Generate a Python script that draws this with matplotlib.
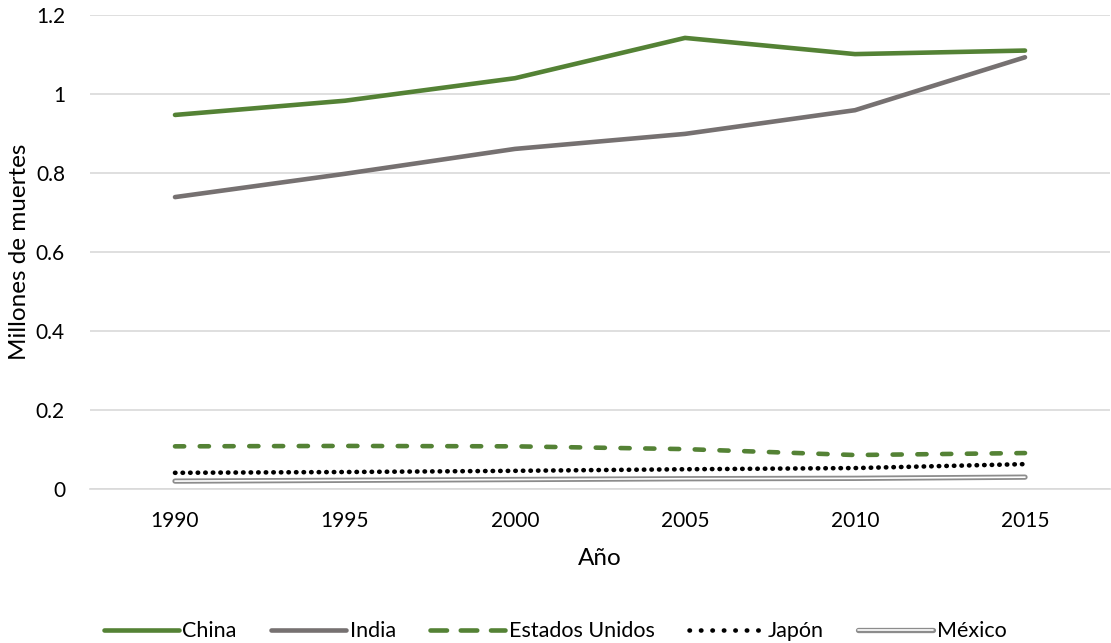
import matplotlib.pyplot as plt
import matplotlib.patheffects as pe
from matplotlib.lines import Line2D

plt.rcParams['font.family'] = ['Lato', 'DejaVu Sans']

years = [1990, 1995, 2000, 2005, 2010, 2015]
china = [0.947, 0.983, 1.040, 1.142, 1.101, 1.110]
india = [0.739, 0.798, 0.861, 0.899, 0.959, 1.093]
estados_unidos = [0.108, 0.109, 0.108, 0.101, 0.086, 0.091]
japon = [0.041, 0.043, 0.046, 0.050, 0.053, 0.063]
mexico = [0.020, 0.022, 0.024, 0.026, 0.027, 0.030]
names = ['China', 'India', 'Estados Unidos', 'Japón', 'México']

green = '#548235'
gray = '#767171'
mex_edge = '#8c8c8c'

fig = plt.figure(figsize=(11.11, 6.43), dpi=100)
ax = fig.add_axes([90 / 1111, 1 - 489 / 643, 1020 / 1111, 474 / 643])

x = range(len(years))
lw = 3.3
mex_fx = [pe.Stroke(linewidth=3.8, foreground=mex_edge), pe.Normal()]
ax.plot(x, china, color=green, lw=lw, solid_capstyle='round')
ax.plot(x, india, color=gray, lw=lw, solid_capstyle='round')
ax.plot(x, estados_unidos, color=green, lw=lw, linestyle=(0, (2.0, 3.4)),
        dash_capstyle='round')
ax.plot(x, japon, color='black', lw=lw, linestyle=(0, (0.1, 1.55)),
        dash_capstyle='round')
# double line: gray outline with a white core
ax.plot(x, mexico, color='white', lw=1.2, solid_capstyle='round', path_effects=mex_fx)

ax.set_xlim(-0.5, len(years) - 0.5)
ax.set_ylim(0, 1.2)
ax.set_xticks(list(x))
ax.set_xticklabels([str(y) for y in years])
ax.set_yticks([0, 0.2, 0.4, 0.6, 0.8, 1.0, 1.2])
ax.set_yticklabels(['0', '0.2', '0.4', '0.6', '0.8', '1', '1.2'])
ax.yaxis.grid(True, color='#d9d9d9', lw=1.2)
ax.set_axisbelow(True)
for s in ax.spines.values():
    s.set_visible(False)
ax.spines['bottom'].set_visible(True)
ax.spines['bottom'].set_color('#d9d9d9')
ax.spines['bottom'].set_linewidth(1.2)
ax.tick_params(length=0, labelsize=15, colors='black')
ax.tick_params(axis='y', pad=18)
ax.tick_params(axis='x', pad=16)

ax.set_xlabel('Año', fontsize=17.5, labelpad=12)
ax.set_ylabel('Millones de muertes', fontsize=17.5, labelpad=4)

# legend keys use longer dash/dot spacing than the plotted lines
handles = [
    Line2D([], [], color=green, lw=lw, solid_capstyle='round'),
    Line2D([], [], color=gray, lw=lw, solid_capstyle='round'),
    Line2D([], [], color=green, lw=lw, linestyle=(0, (3.6, 3.0)), dash_capstyle='round'),
    Line2D([], [], color='black', lw=lw, linestyle=(0, (0.1, 2.4)), dash_capstyle='round'),
    Line2D([], [], color='white', lw=1.2, solid_capstyle='round', path_effects=mex_fx),
]
ax.legend(handles, names, loc='lower center', bbox_to_anchor=(0.5 - 45 / 1020, -0.362),
          ncol=5, frameon=False, fontsize=15.5, handlelength=3.5, columnspacing=1.6,
          handletextpad=0.15)

fig.savefig('out.png', dpi=100)
